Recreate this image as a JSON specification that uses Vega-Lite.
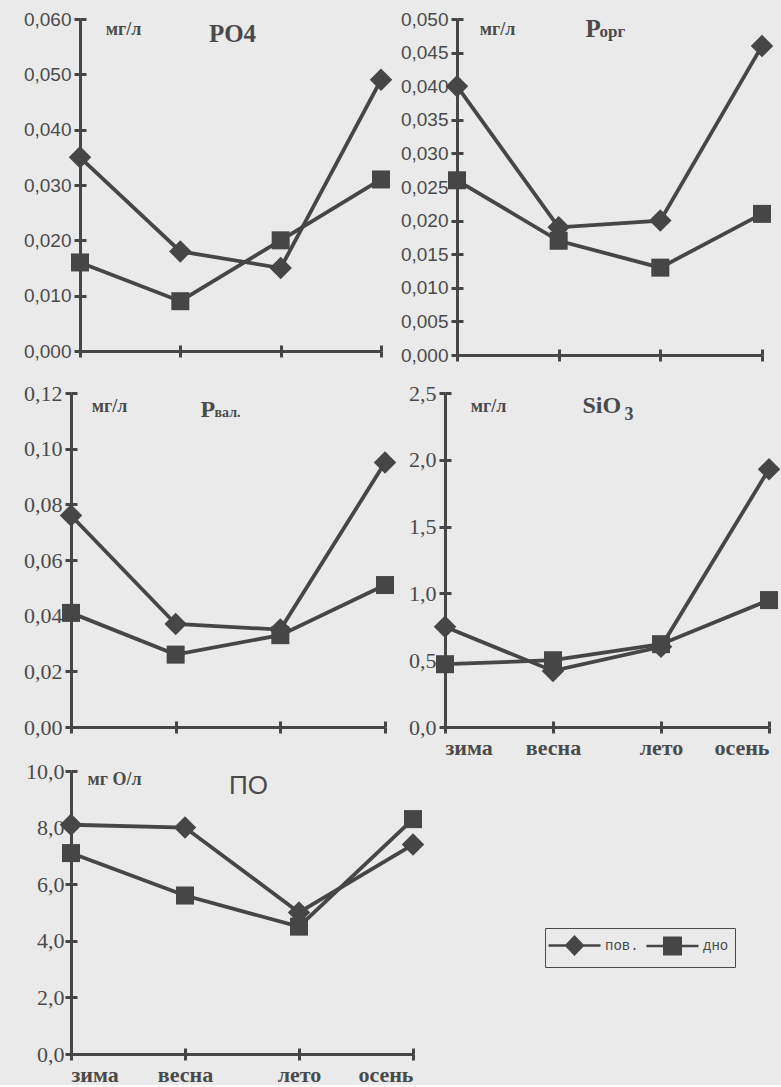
{
  "$schema": "https://vega.github.io/schema/vega-lite/v6.json",
  "background": "#eaeaea",
  "padding": {"left": 6, "top": 10, "right": 0, "bottom": 0},
  "config": {
    "view": {"stroke": null, "fill": null},
    "axis": {
      "grid": false,
      "domainColor": "#464646",
      "domainWidth": 3,
      "tickColor": "#464646",
      "tickWidth": 3,
      "tickSize": 6,
      "labelColor": "#4a4a4a",
      "titleColor": "#4a4a4a",
      "labelOverlap": false,
      "labelFlush": false
    }
  },
  "datasets": {
    "d": [
      {"p": "PO4", "season": "зима", "n": 1, "s": "пов.", "v": 0.035},
      {"p": "PO4", "season": "весна", "n": 2, "s": "пов.", "v": 0.018},
      {"p": "PO4", "season": "лето", "n": 3, "s": "пов.", "v": 0.015},
      {"p": "PO4", "season": "осень", "n": 4, "s": "пов.", "v": 0.049},
      {"p": "PO4", "season": "зима", "n": 1, "s": "дно", "v": 0.016},
      {"p": "PO4", "season": "весна", "n": 2, "s": "дно", "v": 0.009},
      {"p": "PO4", "season": "лето", "n": 3, "s": "дно", "v": 0.020},
      {"p": "PO4", "season": "осень", "n": 4, "s": "дно", "v": 0.031},
      {"p": "Porg", "season": "зима", "n": 1, "s": "пов.", "v": 0.040},
      {"p": "Porg", "season": "весна", "n": 2, "s": "пов.", "v": 0.019},
      {"p": "Porg", "season": "лето", "n": 3, "s": "пов.", "v": 0.020},
      {"p": "Porg", "season": "осень", "n": 4, "s": "пов.", "v": 0.046},
      {"p": "Porg", "season": "зима", "n": 1, "s": "дно", "v": 0.026},
      {"p": "Porg", "season": "весна", "n": 2, "s": "дно", "v": 0.017},
      {"p": "Porg", "season": "лето", "n": 3, "s": "дно", "v": 0.013},
      {"p": "Porg", "season": "осень", "n": 4, "s": "дно", "v": 0.021},
      {"p": "Pval", "season": "зима", "n": 1, "s": "пов.", "v": 0.076},
      {"p": "Pval", "season": "весна", "n": 2, "s": "пов.", "v": 0.037},
      {"p": "Pval", "season": "лето", "n": 3, "s": "пов.", "v": 0.035},
      {"p": "Pval", "season": "осень", "n": 4, "s": "пов.", "v": 0.095},
      {"p": "Pval", "season": "зима", "n": 1, "s": "дно", "v": 0.041},
      {"p": "Pval", "season": "весна", "n": 2, "s": "дно", "v": 0.026},
      {"p": "Pval", "season": "лето", "n": 3, "s": "дно", "v": 0.033},
      {"p": "Pval", "season": "осень", "n": 4, "s": "дно", "v": 0.051},
      {"p": "SiO3", "season": "зима", "n": 1, "s": "пов.", "v": 0.75},
      {"p": "SiO3", "season": "весна", "n": 2, "s": "пов.", "v": 0.42},
      {"p": "SiO3", "season": "лето", "n": 3, "s": "пов.", "v": 0.60},
      {"p": "SiO3", "season": "осень", "n": 4, "s": "пов.", "v": 1.93},
      {"p": "SiO3", "season": "зима", "n": 1, "s": "дно", "v": 0.47},
      {"p": "SiO3", "season": "весна", "n": 2, "s": "дно", "v": 0.50},
      {"p": "SiO3", "season": "лето", "n": 3, "s": "дно", "v": 0.62},
      {"p": "SiO3", "season": "осень", "n": 4, "s": "дно", "v": 0.95},
      {"p": "PO", "season": "зима", "n": 1, "s": "пов.", "v": 8.1},
      {"p": "PO", "season": "весна", "n": 2, "s": "пов.", "v": 8.0},
      {"p": "PO", "season": "лето", "n": 3, "s": "пов.", "v": 5.0},
      {"p": "PO", "season": "осень", "n": 4, "s": "пов.", "v": 7.4},
      {"p": "PO", "season": "зима", "n": 1, "s": "дно", "v": 7.1},
      {"p": "PO", "season": "весна", "n": 2, "s": "дно", "v": 5.6},
      {"p": "PO", "season": "лето", "n": 3, "s": "дно", "v": 4.5},
      {"p": "PO", "season": "осень", "n": 4, "s": "дно", "v": 8.3}
    ]
  },
  "resolve": {"scale": {"shape": "independent"}, "legend": {"shape": "independent"}},
  "spacing": 2,
  "vconcat": [
    {
      "spacing": 17,
      "resolve": {"scale": {"shape": "independent"}, "legend": {"shape": "independent"}},
      "vconcat": [
        {
          "bounds": "flush",
          "spacing": 76,
          "resolve": {"scale": {"shape": "independent"}, "legend": {"shape": "independent"}},
          "hconcat": [
            {
              "width": 310,
              "height": 332,
              "data": {"name": "d"},
              "transform": [{"filter": "datum.p === 'PO4'"}],
              "resolve": {"axis": {"x": "independent", "y": "independent"}},
              "layer": [
                {
                  "mark": {"type": "line", "strokeWidth": 3.8, "color": "#464646"},
                  "encoding": {
                    "detail": {"field": "s"},
                    "order": {"field": "n"},
                    "x": {"field": "season", "type": "ordinal", "scale": {"type": "point", "padding": 0, "range": [9, 310], "domain": ["зима", "весна", "лето", "осень"]},
                      "axis": {"orient": "bottom", "labels": false, "title": "PO4", "titleX": 161, "titleY": -310, "titleAlign": "center", "titleBaseline": "alphabetic", "titleFont": "Liberation Serif", "titleFontSize": 25, "titleFontWeight": "bold"}},
                    "y": {"field": "v", "type": "quantitative", "scale": {"domain": [0, 0.06], "nice": false},
                      "axis": {"orient": "left", "offset": -9, "values": [0, 0.01, 0.02, 0.03, 0.04, 0.05, 0.06], "labelExpr": "replace(format(datum.value, '.3f'), '.', ',')", "labelFont": "Liberation Sans", "labelFontSize": 19, "labelPadding": 3,
                        "title": "мг/л", "titleAngle": 0, "titleX": 43, "titleY": 15, "titleAlign": "center", "titleBaseline": "alphabetic", "titleFont": "Liberation Serif", "titleFontSize": 18, "titleFontWeight": "bold"}}
                  }
                },
                {
                  "mark": {"type": "point", "filled": true, "opacity": 1, "color": "#464646", "size": 324},
                  "encoding": {
                    "shape": {"field": "s", "type": "nominal", "scale": {"domain": ["пов.", "дно"], "range": ["M0,-1.25L1.25,0L0,1.25L-1.25,0Z", "M-1,-1H1V1H-1Z"]}, "legend": null},
                    "x": {"field": "season", "type": "ordinal", "scale": {"type": "point", "padding": 0, "range": [9, 310], "domain": ["зима", "весна", "лето", "осень"]},
                      "axis": {"orient": "bottom", "offset": -6, "domain": false, "labels": false, "title": null}},
                    "y": {"field": "v", "type": "quantitative", "scale": {"domain": [0, 0.06], "nice": false},
                      "axis": {"orient": "left", "offset": -15, "domain": false, "labels": false, "title": null, "values": [0, 0.01, 0.02, 0.03, 0.04, 0.05, 0.06]}}
                  }
                }
              ]
            },
            {
              "width": 305,
              "height": 336,
              "data": {"name": "d"},
              "transform": [{"filter": "datum.p === 'Porg'"}],
              "resolve": {"axis": {"x": "independent", "y": "independent"}},
              "layer": [
                {
                  "mark": {"type": "line", "strokeWidth": 3.8, "color": "#464646"},
                  "encoding": {
                    "detail": {"field": "s"},
                    "order": {"field": "n"},
                    "x": {"field": "season", "type": "ordinal", "scale": {"type": "point", "padding": 0, "domain": ["зима", "весна", "лето", "осень"]},
                      "axis": {"orient": "bottom", "labels": false, "title": "P", "titleX": 128, "titleY": -319, "titleAlign": "left", "titleBaseline": "alphabetic", "titleFont": "Liberation Serif", "titleFontSize": 25, "titleFontWeight": "bold"}},
                    "y": {"field": "v", "type": "quantitative", "scale": {"domain": [0, 0.05], "nice": false},
                      "axis": {"orient": "left", "values": [0, 0.005, 0.01, 0.015, 0.02, 0.025, 0.03, 0.035, 0.04, 0.045, 0.05], "labelExpr": "replace(format(datum.value, '.3f'), '.', ',')", "labelFont": "Liberation Sans", "labelFontSize": 19, "labelPadding": 3,
                        "title": "мг/л", "titleAngle": 0, "titleX": 40, "titleY": 15, "titleAlign": "center", "titleBaseline": "alphabetic", "titleFont": "Liberation Serif", "titleFontSize": 18, "titleFontWeight": "bold"}}
                  }
                },
                {
                  "mark": {"type": "point", "filled": true, "opacity": 1, "color": "#464646", "size": 324},
                  "encoding": {
                    "shape": {"field": "s", "type": "nominal", "scale": {"domain": ["пов.", "дно"], "range": ["M0,-1.25L1.25,0L0,1.25L-1.25,0Z", "M-1,-1H1V1H-1Z"]}, "legend": null},
                    "x": {"field": "season", "type": "ordinal", "scale": {"type": "point", "padding": 0, "domain": ["зима", "весна", "лето", "осень"]},
                      "axis": {"orient": "bottom", "offset": -6, "domain": false, "labels": false, "title": "орг", "titleX": 142, "titleY": -313, "titleAlign": "left", "titleBaseline": "alphabetic", "titleFont": "Liberation Serif", "titleFontSize": 17, "titleFontWeight": "bold"}},
                    "y": {"field": "v", "type": "quantitative", "scale": {"domain": [0, 0.05], "nice": false},
                      "axis": {"orient": "left", "offset": -6, "domain": false, "labels": false, "title": null, "values": [0, 0.005, 0.01, 0.015, 0.02, 0.025, 0.03, 0.035, 0.04, 0.045, 0.05]}}
                  }
                }
              ]
            }
          ]
        },
        {
          "bounds": "flush",
          "spacing": 60,
          "resolve": {"scale": {"shape": "independent"}, "legend": {"shape": "independent"}},
          "hconcat": [
            {
              "width": 314,
              "height": 334,
              "data": {"name": "d"},
              "transform": [{"filter": "datum.p === 'Pval'"}],
              "resolve": {"axis": {"x": "independent", "y": "independent"}},
              "layer": [
                {
                  "mark": {"type": "line", "strokeWidth": 3.8, "color": "#464646"},
                  "encoding": {
                    "detail": {"field": "s"},
                    "order": {"field": "n"},
                    "x": {"field": "season", "type": "ordinal", "scale": {"type": "point", "padding": 0, "domain": ["зима", "весна", "лето", "осень"]},
                      "axis": {"orient": "bottom", "labels": false, "title": "P", "titleX": 129, "titleY": -311, "titleAlign": "left", "titleBaseline": "alphabetic", "titleFont": "Liberation Serif", "titleFontSize": 24, "titleFontWeight": "bold"}},
                    "y": {"field": "v", "type": "quantitative", "scale": {"domain": [0, 0.12], "nice": false},
                      "axis": {"orient": "left", "values": [0, 0.02, 0.04, 0.06, 0.08, 0.1, 0.12], "labelExpr": "replace(format(datum.value, '.2f'), '.', ',')", "labelFont": "Liberation Serif", "labelFontSize": 22, "labelPadding": 3, "minExtent": 65,
                        "title": "мг/л", "titleAngle": 0, "titleX": 38, "titleY": 18, "titleAlign": "center", "titleBaseline": "alphabetic", "titleFont": "Liberation Serif", "titleFontSize": 18, "titleFontWeight": "bold"}}
                  }
                },
                {
                  "mark": {"type": "point", "filled": true, "opacity": 1, "color": "#464646", "size": 324},
                  "encoding": {
                    "shape": {"field": "s", "type": "nominal", "scale": {"domain": ["пов.", "дно"], "range": ["M0,-1.25L1.25,0L0,1.25L-1.25,0Z", "M-1,-1H1V1H-1Z"]}, "legend": null},
                    "x": {"field": "season", "type": "ordinal", "scale": {"type": "point", "padding": 0, "domain": ["зима", "весна", "лето", "осень"]},
                      "axis": {"orient": "bottom", "offset": -6, "domain": false, "labels": false, "title": "вал.", "titleX": 143, "titleY": -305, "titleAlign": "left", "titleBaseline": "alphabetic", "titleFont": "Liberation Serif", "titleFontSize": 14, "titleFontWeight": "bold"}},
                    "y": {"field": "v", "type": "quantitative", "scale": {"domain": [0, 0.12], "nice": false},
                      "axis": {"orient": "left", "offset": -6, "domain": false, "labels": false, "title": null, "values": [0, 0.02, 0.04, 0.06, 0.08, 0.1, 0.12]}}
                  }
                }
              ]
            },
            {
              "width": 324,
              "height": 334,
              "data": {"name": "d"},
              "transform": [{"filter": "datum.p === 'SiO3'"}],
              "resolve": {"axis": {"x": "independent", "y": "independent"}},
              "layer": [
                {
                  "mark": {"type": "line", "strokeWidth": 3.8, "color": "#464646"},
                  "encoding": {
                    "detail": {"field": "s"},
                    "order": {"field": "n"},
                    "x": {"field": "season", "type": "ordinal", "scale": {"type": "point", "padding": 0, "domain": ["зима", "весна", "лето", "осень"]},
                      "axis": {"orient": "bottom", "labels": true, "labelAngle": 0, "labelFlush": true, "labelFont": "Liberation Serif", "labelFontSize": 22, "labelFontWeight": "bold", "labelPadding": 4,
                        "title": "SiO", "titleX": 137, "titleY": -315, "titleAlign": "left", "titleBaseline": "alphabetic", "titleFont": "Liberation Serif", "titleFontSize": 24, "titleFontWeight": "bold"}},
                    "y": {"field": "v", "type": "quantitative", "scale": {"domain": [0, 2.5], "nice": false},
                      "axis": {"orient": "left", "values": [0, 0.5, 1, 1.5, 2, 2.5], "labelExpr": "replace(format(datum.value, '.1f'), '.', ',')", "labelFont": "Liberation Serif", "labelFontSize": 22, "labelPadding": 3,
                        "title": "мг/л", "titleAngle": 0, "titleX": 43, "titleY": 18, "titleAlign": "center", "titleBaseline": "alphabetic", "titleFont": "Liberation Serif", "titleFontSize": 18, "titleFontWeight": "bold"}}
                  }
                },
                {
                  "mark": {"type": "point", "filled": true, "opacity": 1, "color": "#464646", "size": 324},
                  "encoding": {
                    "shape": {"field": "s", "type": "nominal", "scale": {"domain": ["пов.", "дно"], "range": ["M0,-1.25L1.25,0L0,1.25L-1.25,0Z", "M-1,-1H1V1H-1Z"]}, "legend": null},
                    "x": {"field": "season", "type": "ordinal", "scale": {"type": "point", "padding": 0, "domain": ["зима", "весна", "лето", "осень"]},
                      "axis": {"orient": "bottom", "offset": -6, "domain": false, "labels": false, "title": "3", "titleX": 179, "titleY": -302, "titleAlign": "left", "titleBaseline": "alphabetic", "titleFont": "Liberation Serif", "titleFontSize": 18, "titleFontWeight": "bold"}},
                    "y": {"field": "v", "type": "quantitative", "scale": {"domain": [0, 2.5], "nice": false},
                      "axis": {"orient": "left", "offset": -6, "domain": false, "labels": false, "title": null, "values": [0, 0.5, 1, 1.5, 2, 2.5]}}
                  }
                }
              ]
            }
          ]
        }
      ]
    },
    {
      "width": 342,
      "height": 283,
      "data": {"name": "d"},
      "transform": [{"filter": "datum.p === 'PO'"}],
      "resolve": {"axis": {"x": "independent", "y": "independent"}, "scale": {"shape": "independent"}, "legend": {"shape": "independent"}},
      "layer": [
        {
          "mark": {"type": "line", "strokeWidth": 3.8, "color": "#464646"},
          "encoding": {
            "detail": {"field": "s"},
            "order": {"field": "n"},
            "x": {"field": "season", "type": "ordinal", "scale": {"type": "point", "padding": 0, "domain": ["зима", "весна", "лето", "осень"]},
              "axis": {"orient": "bottom", "labels": true, "labelAngle": 0, "labelFlush": true, "labelFont": "Liberation Serif", "labelFontSize": 22, "labelFontWeight": "bold", "labelPadding": 4,
                "title": "ПО", "titleX": 177, "titleY": -261, "titleAlign": "center", "titleBaseline": "alphabetic", "titleFont": "Liberation Sans", "titleFontSize": 26, "titleFontWeight": "normal"}},
            "y": {"field": "v", "type": "quantitative", "scale": {"domain": [0, 10], "nice": false},
              "axis": {"orient": "left", "values": [0, 2, 4, 6, 8, 10], "labelExpr": "replace(format(datum.value, '.1f'), '.', ',')", "labelFont": "Liberation Serif", "labelFontSize": 22, "labelPadding": 1, "minExtent": 65,
                "title": "мг О/л", "titleAngle": 0, "titleX": 43, "titleY": 13, "titleAlign": "center", "titleBaseline": "alphabetic", "titleFont": "Liberation Serif", "titleFontSize": 18, "titleFontWeight": "bold"}}
          }
        },
        {
          "mark": {"type": "point", "filled": true, "opacity": 1, "color": "#464646", "size": 324},
          "encoding": {
            "shape": {"field": "s", "type": "nominal", "scale": {"domain": ["пов.", "дно"], "range": ["M0,-1.25L1.25,0L0,1.25L-1.25,0Z", "M-1,-1H1V1H-1Z"]}, "legend": null},
            "x": {"field": "season", "type": "ordinal", "scale": {"type": "point", "padding": 0, "domain": ["зима", "весна", "лето", "осень"]},
              "axis": {"orient": "bottom", "offset": -6, "domain": false, "labels": false, "title": null}},
            "y": {"field": "v", "type": "quantitative", "scale": {"domain": [0, 10], "nice": false},
              "axis": {"orient": "left", "offset": -6, "domain": false, "labels": false, "title": null, "values": [0, 2, 4, 6, 8, 10]}}
          }
        },
        {
          "transform": [{"filter": "datum.v < 0"}],
          "mark": {"type": "point", "filled": false, "fill": "#464646", "stroke": "#464646", "strokeWidth": 2.5, "opacity": 1},
          "encoding": {
            "shape": {"field": "s", "type": "nominal",
              "scale": {"domain": ["пов.", "дно"], "range": ["M-1.4,-0.13H3.8V0.13H-1.4ZM1.2,-1.05L2.2,0L1.2,1.05L0.2,0Z", "M-1.4,-0.13H3.8V0.13H-1.4ZM0.25,-0.95H2.15V0.95H0.25Z"]},
              "legend": {"orient": "none", "legendX": 474, "legendY": 157, "direction": "horizontal", "title": null,
                "strokeColor": "#4a4a4a", "padding": 6, "symbolSize": 400, "symbolStrokeWidth": 2.5, "symbolFillColor": "#464646", "symbolStrokeColor": "#464646",
                "labelFont": "Liberation Mono", "labelFontSize": 14, "labelColor": "#4a4a4a", "labelOffset": 31, "columnPadding": 2,
                "encode": {
                  "legend": {"strokeWidth": {"value": 1.5}},
                  "symbols": {
                    "fill": {"value": "#464646"},
                    "stroke": {"value": "#464646"},
                    "strokeWidth": {"value": 2.5},
                    "opacity": {"value": 1}
                  }
                }}},
            "x": {"field": "season", "type": "ordinal", "axis": null},
            "y": {"field": "v", "type": "quantitative", "axis": null}
          }
        }
      ]
    }
  ]
}
